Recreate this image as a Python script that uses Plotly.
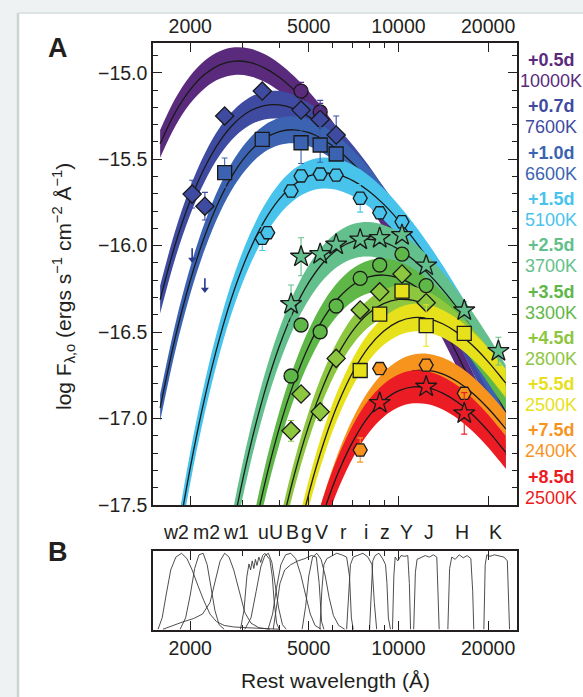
import numpy as np
import plotly.graph_objects as go

# ---------------- data ----------------
EPOCHS = ["+0.5d", "+0.7d", "+1.0d", "+1.5d", "+2.5d", "+3.5d", "+4.5d", "+5.5d", "+7.5d", "+8.5d"]
TEMPS = ["10000K", "7600K", "6600K", "5100K", "3700K", "3300K", "2800K", "2500K", "2400K", "2500K"]

# wavelength grid (Angstrom) of the blackbody model curves
MODEL_LAM = [1585, 1778, 1995, 2239, 2512, 2818, 3162, 3548, 3981, 4467, 5012, 5623, 6310,
             7079, 7943, 8913, 10000, 11220, 12589, 14125, 15849, 17783, 19953, 22387, 22909]
MODEL_05D = [-15.411, -15.232, -15.100, -15.009, -14.955, -14.933, -14.940, -14.972, -15.026, -15.100,
             -15.190, -15.295, -15.412, -15.540, -15.678, -15.823, -15.976, -16.134, -16.298, -16.466,
             -16.638, -16.814, -16.992, -17.173, -17.210]
MODEL_07D = [-16.312, -15.998, -15.745, -15.547, -15.397, -15.291, -15.223, -15.190, -15.186, -15.209,
             -15.255, -15.321, -15.405, -15.505, -15.617, -15.742, -15.876, -16.018, -16.168, -16.325,
             -16.487, -16.653, -16.824, -16.998, -17.033]
MODEL_10D = [-16.938, -16.538, -16.209, -15.943, -15.733, -15.573, -15.458, -15.381, -15.340, -15.330,
             -15.347, -15.389, -15.451, -15.531, -15.627, -15.737, -15.859, -15.991, -16.132, -16.280,
             -16.435, -16.596, -16.761, -16.931, -16.965]
MODEL_15D = [-18.385, -17.794, -17.295, -16.877, -16.532, -16.251, -16.029, -15.857, -15.731, -15.646,
             -15.597, -15.580, -15.591, -15.627, -15.684, -15.760, -15.853, -15.960, -16.079, -16.208,
             -16.347, -16.494, -16.647, -16.807, -16.839]
MODEL_25D = [-20.996, -20.087, -19.305, -18.634, -18.064, -17.583, -17.181, -16.850, -16.582, -16.371,
             -16.210, -16.093, -16.016, -15.974, -15.963, -15.980, -16.020, -16.082, -16.162, -16.257,
             -16.367, -16.488, -16.620, -16.761, -16.790]
MODEL_35D = [-22.246, -21.197, -20.289, -19.507, -18.837, -18.267, -17.787, -17.386, -17.055, -16.788,
             -16.577, -16.416, -16.300, -16.223, -16.181, -16.170, -16.187, -16.228, -16.289, -16.369,
             -16.465, -16.575, -16.696, -16.828, -16.855]
MODEL_45D = [-24.163, -22.882, -21.767, -20.801, -19.967, -19.250, -18.639, -18.122, -17.688, -17.328,
             -17.035, -16.801, -16.619, -16.484, -16.391, -16.335, -16.311, -16.317, -16.347, -16.400,
             -16.473, -16.562, -16.666, -16.783, -16.808]
MODEL_55D = [-25.712, -24.247, -22.968, -21.856, -20.892, -20.059, -19.345, -18.735, -18.219, -17.787,
             -17.428, -17.136, -16.902, -16.722, -16.587, -16.495, -16.439, -16.416, -16.422, -16.453,
             -16.506, -16.579, -16.669, -16.773, -16.795]
MODEL_75D = [-26.584, -25.048, -23.705, -22.536, -21.522, -20.644, -19.890, -19.244, -18.696, -18.235,
             -17.851, -17.536, -17.283, -17.084, -16.934, -16.827, -16.759, -16.725, -16.721, -16.743,
             -16.789, -16.855, -16.939, -17.038, -17.060]
MODEL_85D = [-26.113, -24.648, -23.369, -22.257, -21.293, -20.460, -19.746, -19.136, -18.620, -18.188,
             -17.829, -17.537, -17.303, -17.123, -16.988, -16.896, -16.840, -16.817, -16.823, -16.854,
             -16.907, -16.980, -17.070, -17.174, -17.196]
MODELS = [MODEL_05D, MODEL_07D, MODEL_10D, MODEL_15D, MODEL_25D, MODEL_35D, MODEL_45D, MODEL_55D,
          MODEL_75D, MODEL_85D]
# half width of the uncertainty band around each model (dex)
BAND_HALF = [0.080, 0.080, 0.078, 0.090, 0.100, 0.095, 0.080, 0.080, 0.095, 0.095]

# filters: names and effective (rest) wavelengths of the photometry
FILTERS = ["w2", "m2", "w1", "u", "U", "B", "g", "V", "r", "i", "z", "Y", "J", "H", "K"]
FILTER_LAM = [2030, 2240, 2610, 3490, 3640, 4360, 4710, 5460, 6180, 7440, 8650, 10280, 12390, 16630, 21650]
# positions of the filter labels above panel B
LABEL_LAM = [1792, 2260, 2848, 3524, 3896, 4426, 4908, 5532, 6532, 7782, 9022, 10666, 12652, 16340, 21100]

# photometry per epoch: filter, log flux, error
PH_05D_F = ["g", "V"]
PH_05D_V = [-15.106, -15.227]
PH_05D_E = [0.05, 0.05]
PH_07D_F = ["w2", "m2", "w1", "u", "g", "V", "r"]
PH_07D_V = [-15.702, -15.772, -15.250, -15.106, -15.216, -15.270, -15.360]
PH_07D_E = [0.08, 0.08, 0.03, 0.02, 0.03, 0.11, 0.11]
PH_10D_F = ["w1", "u", "g", "V", "r"]
PH_10D_V = [-15.578, -15.385, -15.405, -15.418, -15.470]
PH_10D_E = [0.085, 0.02, 0.12, 0.10, 0.02]
PH_15D_F = ["u", "U", "B", "g", "V", "r", "i", "z", "Y"]
PH_15D_V = [-15.958, -15.925, -15.684, -15.597, -15.586, -15.592, -15.726, -15.810, -15.862]
PH_15D_E = [0.07, 0.02, 0.02, 0.02, 0.02, 0.02, 0.08, 0.02, 0.02]
PH_25D_F = ["B", "g", "V", "r", "i", "z", "Y", "J", "H", "K"]
PH_25D_V = [-16.338, -16.064, -16.049, -15.994, -15.965, -15.956, -15.939, -16.115, -16.375, -16.610]
PH_25D_E = [0.11, 0.11, 0.02, 0.02, 0.05, 0.02, 0.02, 0.02, 0.05, 0.08]
PH_35D_F = ["B", "g", "V", "r", "i", "z", "Y", "J"]
PH_35D_V = [-16.754, -16.459, -16.498, -16.349, -16.189, -16.112, -16.049, -16.231]
PH_35D_E = [0.02, 0.02, 0.02, 0.02, 0.02, 0.02, 0.02, 0.02]
PH_45D_F = ["B", "g", "V", "r", "i", "z", "Y", "J"]
PH_45D_V = [-17.071, -16.858, -16.961, -16.652, -16.372, -16.267, -16.164, -16.330]
PH_45D_E = [0.06, 0.02, 0.05, 0.02, 0.02, 0.02, 0.02, 0.02]
PH_55D_F = ["i", "z", "Y", "J", "H"]
PH_55D_V = [-16.722, -16.396, -16.263, -16.462, -16.507]
PH_55D_E = [0.02, 0.02, 0.02, 0.12, 0.02]
PH_75D_F = ["i", "z", "J", "H"]
PH_75D_V = [-17.182, -16.711, -16.691, -16.854]
PH_75D_E = [0.07, 0.02, 0.02, 0.02]
PH_85D_F = ["z", "J", "H"]
PH_85D_V = [-16.910, -16.816, -16.970]
PH_85D_E = [0.02, 0.02, 0.12]
PHOT = [(PH_05D_F, PH_05D_V, PH_05D_E), (PH_07D_F, PH_07D_V, PH_07D_E), (PH_10D_F, PH_10D_V, PH_10D_E),
        (PH_15D_F, PH_15D_V, PH_15D_E), (PH_25D_F, PH_25D_V, PH_25D_E), (PH_35D_F, PH_35D_V, PH_35D_E),
        (PH_45D_F, PH_45D_V, PH_45D_E), (PH_55D_F, PH_55D_V, PH_55D_E), (PH_75D_F, PH_75D_V, PH_75D_E),
        (PH_85D_F, PH_85D_V, PH_85D_E)]
# upper limits (+1.0d): filter, log flux limit
LIM_10D_F = ["w2", "m2"]
LIM_10D_V = [-16.095, -16.268]

# filter transmission curves (panel B)
TR_W2_LAM = [1560, 1610, 1660, 1720, 1790, 1870, 1950, 2030, 2120, 2220, 2330, 2450, 2600, 2800, 3100, 3500, 4000]
TR_W2 = [0.0, 0.15, 0.45, 0.78, 0.95, 1.0, 0.93, 0.78, 0.58, 0.38, 0.2, 0.1, 0.05, 0.03, 0.02, 0.01, 0.0]
TR_M2_LAM = [1850, 1930, 2000, 2070, 2140, 2210, 2280, 2350, 2420, 2500, 2600]
TR_M2 = [0.0, 0.15, 0.45, 0.8, 0.98, 1.0, 0.85, 0.55, 0.25, 0.06, 0.0]
TR_W1_LAM = [1620, 1750, 1900, 2050, 2200, 2330, 2430, 2520, 2610, 2700, 2800, 2920, 3050, 3200, 3400, 3700]
TR_W1 = [0.0, 0.05, 0.1, 0.14, 0.2, 0.35, 0.65, 0.9, 1.0, 0.95, 0.78, 0.5, 0.22, 0.08, 0.02, 0.0]
TR_SU_LAM = [2950, 3030, 3100, 3150, 3190, 3230, 3270, 3310, 3350, 3400, 3450, 3500, 3560, 3630, 3700, 3770,
             3830, 3900, 3980]
TR_SU = [0.0, 0.25, 0.7, 0.86, 0.78, 0.9, 0.8, 0.92, 0.84, 0.95, 0.88, 0.97, 1.0, 0.96, 0.92, 0.7, 0.35, 0.08, 0.0]
TR_U_LAM = [3050, 3200, 3330, 3450, 3560, 3660, 3760, 3860, 3960, 4080, 4200]
TR_U = [0.0, 0.15, 0.5, 0.82, 0.97, 1.0, 0.88, 0.6, 0.28, 0.06, 0.0]
TR_B_LAM = [3650, 3780, 3900, 4030, 4180, 4350, 4520, 4700, 4880, 5060, 5250, 5500]
TR_B = [0.0, 0.2, 0.55, 0.85, 0.98, 1.0, 0.93, 0.72, 0.45, 0.2, 0.05, 0.0]
TR_G_LAM = [3800, 3900, 4000, 4150, 4350, 4600, 4850, 5100, 5300, 5420, 5520, 5620]
TR_G = [0.0, 0.3, 0.6, 0.78, 0.85, 0.9, 0.93, 0.97, 0.95, 0.6, 0.1, 0.0]
TR_V_LAM = [4750, 4880, 5000, 5150, 5320, 5500, 5680, 5850, 6050, 6300, 6600]
TR_V = [0.0, 0.3, 0.7, 0.95, 1.0, 0.92, 0.7, 0.42, 0.18, 0.05, 0.0]
TR_R_LAM = [5450, 5530, 5620, 5750, 5950, 6200, 6450, 6700, 6850, 6950, 7050]
TR_R = [0.0, 0.5, 0.85, 0.93, 0.96, 1.0, 0.98, 0.95, 0.7, 0.15, 0.0]
TR_I_LAM = [6700, 6800, 6900, 7050, 7300, 7600, 7900, 8150, 8300, 8450]
TR_I = [0.0, 0.45, 0.85, 0.95, 0.97, 1.0, 0.95, 0.85, 0.35, 0.0]
TR_Z_LAM = [8000, 8100, 8200, 8350, 8600, 8850, 9050, 9150, 9250, 9400]
TR_Z = [0.0, 0.5, 0.9, 0.97, 1.0, 0.93, 0.85, 0.6, 0.15, 0.0]
TR_Y_LAM = [9550, 9650, 9750, 9950, 10200, 10500, 10750, 10880, 10980]
TR_Y = [0.0, 0.7, 0.95, 0.9, 0.97, 0.96, 0.97, 0.6, 0.0]
TR_J_LAM = [11250, 11400, 11550, 11900, 12300, 12700, 13100, 13450, 13600, 13700]
TR_J = [0.0, 0.75, 0.92, 0.94, 0.97, 0.95, 0.98, 0.95, 0.5, 0.0]
TR_H_LAM = [14650, 14850, 15100, 15500, 16000, 16500, 17000, 17500, 17750, 17900]
TR_H = [0.0, 0.8, 0.95, 0.92, 0.98, 0.94, 0.97, 0.93, 0.5, 0.0]
TR_K_LAM = [19350, 19550, 19800, 20300, 21000, 21800, 22600, 23200, 23450, 23600]
TR_K = [0.0, 0.85, 0.98, 0.96, 0.98, 0.96, 0.95, 0.9, 0.4, 0.0]
TRANSMISSION = [(TR_W2_LAM, TR_W2), (TR_M2_LAM, TR_M2), (TR_W1_LAM, TR_W1), (TR_SU_LAM, TR_SU),
                (TR_U_LAM, TR_U), (TR_B_LAM, TR_B), (TR_G_LAM, TR_G), (TR_V_LAM, TR_V), (TR_R_LAM, TR_R),
                (TR_I_LAM, TR_I), (TR_Z_LAM, TR_Z), (TR_Y_LAM, TR_Y), (TR_J_LAM, TR_J), (TR_H_LAM, TR_H),
                (TR_K_LAM, TR_K)]

# ---------------- style ----------------
COLORS = ["#5a2a7c", "#3f4aa1", "#3b63b1", "#48c3ec", "#63bf8b", "#5fb748", "#8dc63f", "#e7e11b",
          "#f7941e", "#ec1c24"]
SYMBOLS = ["circle", "diamond", "square", "hexagon2", "star", "circle", "diamond", "square", "hexagon2", "star"]
SIZES = [14, 14, 14, 14, 16, 14, 14, 14, 14, 16]
FONT = "Liberation Sans, Arial, sans-serif"
INK = "#231f20"
ARROW = 0.08   # drawn length of the upper-limit arrows (dex)

W, H = 583, 697
L, R, T, B = 153, 66, 43, 67
PW, PH = W - L - R, H - T - B


def px(x):
    return (x - L) / PW


def py(y):
    return (H - B - y) / PH


flam = dict(zip(FILTERS, FILTER_LAM))

fig = go.Figure()

# model bands and lines
for i, mod in enumerate(MODELS):
    lo = [v - BAND_HALF[i] for v in mod]
    hi = [v + BAND_HALF[i] for v in mod]
    fig.add_trace(go.Scatter(x=MODEL_LAM, y=lo, mode="lines", line=dict(width=0, shape="spline"),
                             hoverinfo="skip", showlegend=False, xaxis="x", yaxis="y"))
    fig.add_trace(go.Scatter(x=MODEL_LAM, y=hi, mode="lines", line=dict(width=0, shape="spline"),
                             fill="tonexty", fillcolor=COLORS[i], hoverinfo="skip", showlegend=False,
                             xaxis="x", yaxis="y"))
    fig.add_trace(go.Scatter(x=MODEL_LAM, y=mod, mode="lines",
                             line=dict(width=1.3, color="#1a1a1a", shape="spline"),
                             hoverinfo="skip", showlegend=False, xaxis="x", yaxis="y"))

# photometry
for i, (f, v, e) in enumerate(PHOT):
    fig.add_trace(go.Scatter(
        x=[flam[k] for k in f], y=v, mode="markers",
        error_y=dict(type="data", array=e, visible=True, color=COLORS[i], thickness=1.1, width=3),
        marker=dict(symbol=SYMBOLS[i], size=SIZES[i], color=COLORS[i],
                    line=dict(color="#1a1a1a", width=1.3)),
        showlegend=False, xaxis="x", yaxis="y"))

# upper limits: shaft + head
sx, sy = [], []
for f, v in zip(LIM_10D_F, LIM_10D_V):
    sx += [flam[f], flam[f], None]
    sy += [v + ARROW, v + 0.01, None]
fig.add_trace(go.Scatter(x=sx, y=sy, mode="lines", line=dict(color="#2b3a8c", width=1.6),
                         showlegend=False, hoverinfo="skip", xaxis="x", yaxis="y"))
fig.add_trace(go.Scatter(x=[flam[f] for f in LIM_10D_F], y=[v + 0.015 for v in LIM_10D_V], mode="markers",
                         marker=dict(symbol="triangle-down", size=7, color="#2b3a8c", line=dict(width=0)),
                         showlegend=False, hoverinfo="skip", xaxis="x", yaxis="y"))

# filter transmission curves
for lam, tr in TRANSMISSION:
    fig.add_trace(go.Scatter(x=lam, y=tr, mode="lines", line=dict(color="#3a3a3a", width=0.9),
                             showlegend=False, hoverinfo="skip", xaxis="x2", yaxis="y2"))

ann = []
# filter labels
for name, lam in zip(FILTERS, LABEL_LAM):
    ann.append(dict(x=np.log10(lam), y=py(532), xref="x", yref="paper", text=name, showarrow=False,
                    font=dict(size=19.5, color=INK, family=FONT), xanchor="center", yanchor="middle"))
# legend text (epoch / temperature) in the right margin
for k, (ep, tp) in enumerate(zip(EPOCHS, TEMPS)):
    yb = 60 + 46.3 * k
    ann.append(dict(x=px(551), y=py(yb), xref="paper", yref="paper", text="<b>" + ep + "</b>",
                    showarrow=False, font=dict(size=18, color=COLORS[k], family=FONT),
                    xanchor="center", yanchor="middle"))
    ann.append(dict(x=px(551), y=py(yb + 21), xref="paper", yref="paper", text=tp,
                    showarrow=False, font=dict(size=18, color=COLORS[k], family=FONT),
                    xanchor="center", yanchor="middle"))
# panel letters
ann.append(dict(x=px(58), y=py(48), xref="paper", yref="paper", text="<b>A</b>", showarrow=False,
                font=dict(size=27, color=INK, family=FONT), xanchor="center", yanchor="middle"))
ann.append(dict(x=px(58), y=py(552), xref="paper", yref="paper", text="<b>B</b>", showarrow=False,
                font=dict(size=27, color=INK, family=FONT), xanchor="center", yanchor="middle"))
# axis titles
ann.append(dict(x=px(63), y=py(287), xref="paper", yref="paper", textangle=-90,
                text="log F<sub>λ,o</sub> (ergs s<sup>−1</sup> cm<sup>−2</sup> Å<sup>−1</sup>)",
                showarrow=False, font=dict(size=21, color=INK, family=FONT),
                xanchor="center", yanchor="middle"))
ann.append(dict(x=px(335), y=py(680), xref="paper", yref="paper", text="Rest wavelength (Å)",
                showarrow=False, font=dict(size=21, color=INK, family=FONT),
                xanchor="center", yanchor="middle"))

shapes = [
    dict(type="rect", xref="paper", yref="paper", x0=px(19), x1=px(700), y0=py(720), y1=py(13),
         fillcolor="white", line=dict(width=0), layer="below"),
    dict(type="line", xref="paper", yref="paper", x0=px(18), x1=px(18), y0=py(720), y1=py(13),
         line=dict(color="#cdd2d2", width=2.5)),
    dict(type="line", xref="paper", yref="paper", x0=px(18), x1=px(700), y0=py(13), y1=py(13),
         line=dict(color="#dde2e2", width=2)),
]

xcommon = dict(type="log", range=[np.log10(1500), np.log10(25000)],
               tickvals=[2000, 5000, 10000, 20000], ticktext=["2000", "5000", "10000", "20000"],
               ticks="inside", ticklen=9, tickwidth=1.3, tickcolor=INK,
               minor=dict(tickvals=[3000, 4000, 6000, 7000, 8000, 9000], ticks="inside", ticklen=5,
                          tickwidth=1.2, tickcolor=INK),
               showline=True, linewidth=1.5, linecolor=INK, mirror="ticks", showgrid=False,
               zeroline=False, tickfont=dict(size=19.5, color=INK, family=FONT))

fig.update_layout(
    width=W, height=H, margin=dict(l=L, r=R, t=T, b=B),
    paper_bgcolor="#eff2f2", plot_bgcolor="white", showlegend=False,
    xaxis=dict(xcommon, side="top", anchor="y", domain=[0, 1]),
    yaxis=dict(domain=[py(505), 1], range=[-17.5, -14.828], anchor="x",
               tickvals=[-17.5, -17.0, -16.5, -16.0, -15.5, -15.0], tickformat=".1f",
               ticks="inside", ticklen=9, tickwidth=1.3, tickcolor=INK,
               minor=dict(dtick=0.1, tick0=-17.5, ticks="inside", ticklen=5, tickwidth=1.2, tickcolor=INK),
               showline=True, linewidth=1.5, linecolor=INK, mirror="ticks", showgrid=False,
               zeroline=False, tickfont=dict(size=19.5, color=INK, family=FONT)),
    xaxis2=dict(xcommon, side="bottom", anchor="y2", domain=[0, 1]),
    yaxis2=dict(domain=[0, py(551)], range=[-0.01, 1.03], anchor="x2", showticklabels=False,
                ticks="", showline=True, linewidth=1.5, linecolor=INK, mirror=True, showgrid=False,
                zeroline=False),
    annotations=ann, shapes=shapes,
)

fig.write_html("out.html")
